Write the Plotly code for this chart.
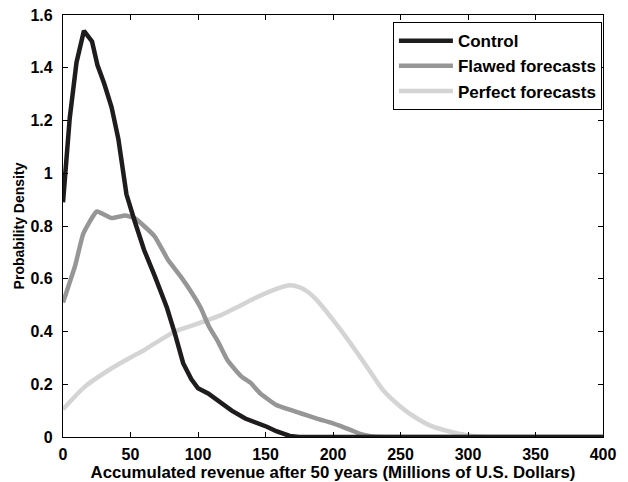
import plotly.graph_objects as go

# Control
ctrl_x = [0, 5, 10, 15.5, 21.5, 25.5, 30.5, 36, 41, 47, 53, 60, 68, 77, 83, 89, 95, 100, 107.5, 115, 125, 135, 142, 151, 158, 163, 168, 175, 200, 250, 300, 350, 400]
ctrl_y = [0.89, 1.21, 1.42, 1.54, 1.50, 1.41, 1.34, 1.25, 1.13, 0.92, 0.82, 0.71, 0.61, 0.49, 0.39, 0.28, 0.22, 0.185, 0.165, 0.135, 0.10, 0.07, 0.058, 0.039, 0.022, 0.012, 0.004, 0.0, 0.0, 0.0, 0.0, 0.0, 0.0]

# Flawed forecasts
flaw_x = [0, 9, 15, 25, 36, 46, 53, 60, 68, 78, 87, 95, 102, 108, 115, 122, 132, 139, 146, 158, 176, 188, 200, 213, 220, 228, 240, 300, 350, 400]
flaw_y = [0.51, 0.65, 0.77, 0.855, 0.83, 0.84, 0.83, 0.80, 0.76, 0.67, 0.61, 0.55, 0.49, 0.42, 0.36, 0.29, 0.23, 0.205, 0.166, 0.121, 0.09, 0.07, 0.052, 0.027, 0.012, 0.003, 0.0, 0.0, 0.0, 0.0]

# Perfect forecasts
perf_x = [0, 16, 34, 51, 58, 68, 83, 100, 117, 130, 142, 153, 162, 168, 175, 182, 188, 200, 213, 225, 237, 250, 262, 274, 287, 298, 310, 330, 350, 400]
perf_y = [0.105, 0.19, 0.254, 0.304, 0.323, 0.355, 0.40, 0.43, 0.462, 0.495, 0.526, 0.551, 0.568, 0.575, 0.568, 0.548, 0.519, 0.444, 0.355, 0.267, 0.178, 0.115, 0.071, 0.039, 0.02, 0.008, 0.002, 0.0, 0.0, 0.0]

x_ticks = [0, 50, 100, 150, 200, 250, 300, 350, 400]
y_ticks = [0, 0.2, 0.4, 0.6, 0.8, 1.0, 1.2, 1.4, 1.6]
y_tick_text = ["0", "0.2", "0.4", "0.6", "0.8", "1", "1.2", "1.4", "1.6"]

font_family = "Liberation Sans, Arial, sans-serif"

fig = go.Figure()
fig.add_trace(go.Scatter(x=perf_x, y=perf_y, mode="lines", name="Perfect forecasts",
                         line=dict(color="#d4d4d4", width=4.5, shape="spline", smoothing=0.6)))
fig.add_trace(go.Scatter(x=flaw_x, y=flaw_y, mode="lines", name="Flawed forecasts",
                         line=dict(color="#969696", width=4.5, shape="spline", smoothing=0.4)))
fig.add_trace(go.Scatter(x=ctrl_x, y=ctrl_y, mode="lines", name="Control",
                         line=dict(color="#1f1c1d", width=4.5)))

axis_common = dict(showgrid=False, zeroline=False, showline=True, linecolor="black", linewidth=1.3,
                   mirror="ticks", ticks="inside", ticklen=5, tickcolor="black", tickwidth=1,
                   automargin=False, ticklabeloverflow="allow",
                   tickfont=dict(family=font_family, size=16, color="black", weight="bold"))

# the page body has an 8 px margin, so the figure is 8 px smaller and shifted
fig.update_layout(
    template="none",
    width=620, height=474,
    margin=dict(l=55, r=25, t=7, b=45, autoexpand=False),
    paper_bgcolor="white", plot_bgcolor="white",
    font=dict(family=font_family, color="black"),
    xaxis=dict(range=[0, 400], tickvals=x_ticks, ticklabelstandoff=3,
               title=dict(text="<b>Accumulated revenue after 50 years (Millions of U.S. Dollars)</b>",
                          font=dict(size=16.8), standoff=0),
               **axis_common),
    yaxis=dict(range=[0, 1.6], tickvals=y_ticks, ticktext=y_tick_text, ticklabelstandoff=6,
               title=dict(text="<b>Probability Density</b>", font=dict(size=14), standoff=2),
               **axis_common),
    legend=dict(x=0.998, y=0.983, xanchor="right", yanchor="top", traceorder="reversed",
                bgcolor="white", bordercolor="black", borderwidth=1,
                font=dict(family=font_family, size=17, color="black", weight="bold"),
                itemwidth=54, tracegroupgap=0),
    showlegend=True,
)

fig.write_html("out.html")
